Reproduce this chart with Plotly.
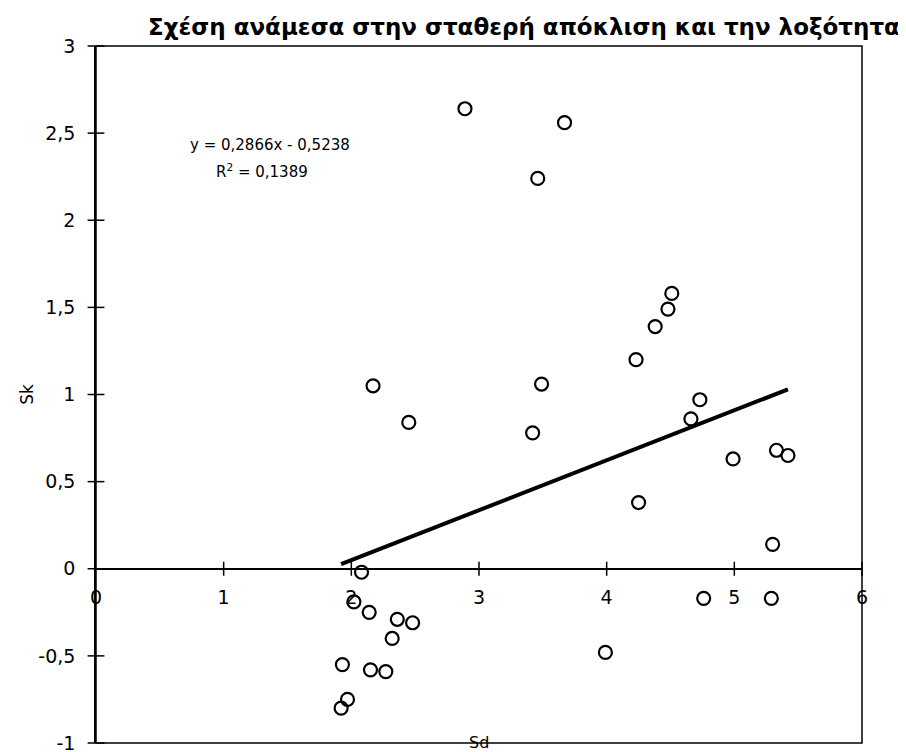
import plotly.graph_objects as go

# Data
sd = [2.89, 3.67, 3.46, 2.17, 4.51, 4.48, 4.38, 4.23, 3.49, 2.45, 3.42, 4.73,
      4.66, 4.99, 5.33, 5.42, 4.25, 5.30, 2.08, 2.02, 2.14, 2.36, 2.48, 2.32,
      1.93, 2.15, 2.27, 1.97, 1.92, 4.76, 5.29, 3.99]
sk = [2.64, 2.56, 2.24, 1.05, 1.58, 1.49, 1.39, 1.20, 1.06, 0.84, 0.78, 0.97,
      0.86, 0.63, 0.68, 0.65, 0.38, 0.14, -0.02, -0.19, -0.25, -0.29, -0.31, -0.40,
      -0.55, -0.58, -0.59, -0.75, -0.80, -0.17, -0.17, -0.48]

slope = 0.2866
intercept = -0.5238
r2 = 0.1389

x_ticks = [0, 1, 2, 3, 4, 5, 6]
x_tick_labels = ["0", "1", "2", "3", "4", "5", "6"]
y_ticks = [-1, -0.5, 0, 0.5, 1, 1.5, 2, 2.5, 3]
y_tick_labels = ["-1", "-0,5", "0", "0,5", "1", "1,5", "2", "2,5", "3"]

title = "Σχέση ανάμεσα στην σταθερή απόκλιση και την λοξότητα"
eq_text = "y = 0,2866x - 0,5238"
r2_text = "R<sup>2</sup> = 0,1389"

FONT = "DejaVu Sans, Liberation Sans, sans-serif"

x_lo, x_hi = min(sd), max(sd)
trend_x = [x_lo, x_hi]
trend_y = [slope * v + intercept for v in trend_x]

fig = go.Figure()

# tick marks crossing the axes
fig.add_trace(go.Scatter(x=x_ticks[1:], y=[0] * (len(x_ticks) - 1), mode="markers",
                         marker=dict(symbol="line-ns", size=10, color="black",
                                     line=dict(color="black", width=1.5)),
                         hoverinfo="skip", showlegend=False, cliponaxis=False))
fig.add_trace(go.Scatter(x=[0] * len(y_ticks), y=y_ticks, mode="markers",
                         marker=dict(symbol="line-ew", size=12, color="black",
                                     line=dict(color="black", width=1.5)),
                         hoverinfo="skip", showlegend=False, cliponaxis=False))

fig.add_trace(go.Scatter(x=trend_x, y=trend_y, mode="lines",
                         line=dict(color="black", width=4), showlegend=False))
fig.add_trace(go.Scatter(x=sd, y=sk, mode="markers",
                         marker=dict(symbol="circle-open", size=13, color="black",
                                     line=dict(color="black", width=2.2)),
                         showlegend=False, cliponaxis=False))

# page body has an 8px margin, so the figure is sized/offset to compensate
fig.update_layout(
    width=898, height=744,
    margin=dict(l=88, r=44, t=38, b=9),
    paper_bgcolor="white", plot_bgcolor="white",
    font=dict(family=FONT, color="black"),
    showlegend=False,
    xaxis=dict(range=[0, 6], anchor="free", position=0.25, automargin=False,
               showline=True, linecolor="black", linewidth=1.5,
               tickvals=x_ticks, ticktext=x_tick_labels, ticks="",
               ticklabelstandoff=12, ticklabeloverflow="allow",
               tickfont=dict(size=19, family=FONT, color="black"),
               showgrid=False, zeroline=False),
    yaxis=dict(range=[-1, 3], domain=[0, 1], automargin=False,
               showline=True, linecolor="black", linewidth=1.5,
               tickvals=y_ticks, ticktext=y_tick_labels, ticks="",
               ticklabelstandoff=15, ticklabeloverflow="allow",
               tickfont=dict(size=19, family=FONT, color="black"),
               showgrid=False, zeroline=False,
               title=dict(text="Sk", font=dict(size=17, family=FONT), standoff=0)),
    shapes=[dict(type="rect", xref="paper", yref="paper", x0=0, y0=0, x1=1, y1=1,
                 line=dict(color="black", width=1.5))],
    annotations=[
        dict(text="<b>" + title + "</b>", xref="paper", yref="paper", x=0.559, y=1.0, yshift=4,
             xanchor="center", yanchor="bottom", showarrow=False,
             font=dict(size=23, family=FONT, color="black")),
        dict(text=eq_text, x=1.36, y=2.43, xanchor="center", yanchor="middle",
             showarrow=False, font=dict(size=15, family=FONT, color="black")),
        dict(text=r2_text, x=1.30, y=2.28, xanchor="center", yanchor="middle",
             showarrow=False, font=dict(size=15, family=FONT, color="black")),
        dict(text="Sd", xref="paper", yref="paper", x=0.5, y=0, yshift=1,
             xanchor="center", yanchor="middle", showarrow=False,
             font=dict(size=16, family=FONT, color="black")),
    ],
)

fig.write_html("out.html")
